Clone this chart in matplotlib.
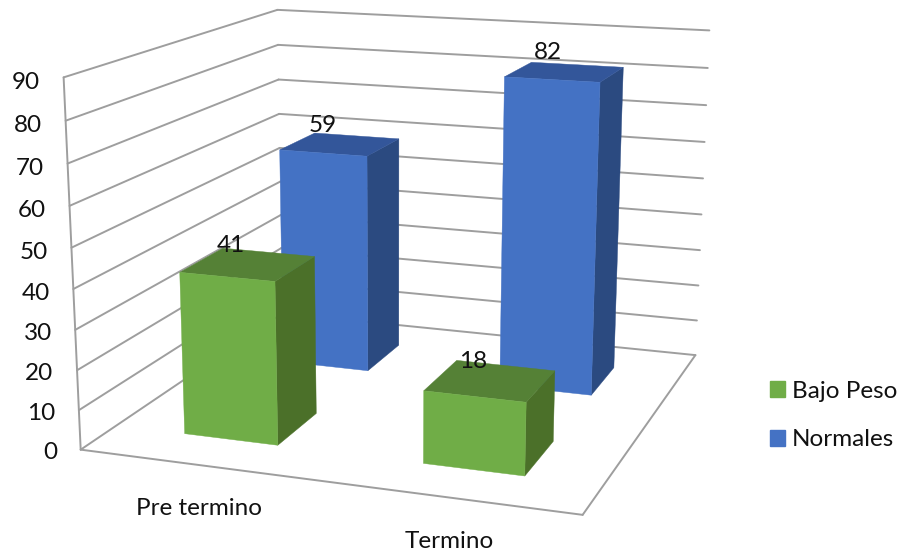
import numpy as np
import matplotlib
matplotlib.use("Agg")
import matplotlib.pyplot as plt
from matplotlib.patches import Polygon, Patch

plt.rcParams['font.family'] = ['Lato', 'DejaVu Sans']

# ---- chart data ----
categories = ["Pre termino", "Termino"]
series_names = ["Bajo Peso", "Normales"]
bajo_peso = [41, 18]
normales = [59, 82]
z_ticks = [0, 10, 20, 30, 40, 50, 60, 70, 80, 90]

# ---- styles ----
green = dict(front="#70AD47", side="#4B7029", top="#558136")
blue = dict(front="#4472C4", side="#2B4A80", top="#33569A")
grid_col = "#9E9E9E"
FS = 17.5

# ---- camera: box coordinates (u, v, z) -> figure pixels ----
cal_world = np.array([(0, 0, 0), (1, 0, 0), (1, 1, 0), (0, 1, 0),
                      (0, 0, 90), (0, 1, 90), (1, 1, 90), (1, 1, 50)], float)
cal_pix = np.array([(80, 448), (583, 516), (695, 354), (283, 315),
                    (64, 78), (277, 9), (709.5, 31), (703, 178)], float)
rows, rhs = [], []
for (u, v, z), (x, y) in zip(cal_world, cal_pix):
    rows.append([u, v, z, 1, 0, 0, 0, 0, -x*u, -x*v, -x*z]); rhs.append(x)
    rows.append([0, 0, 0, 0, u, v, z, 1, -y*u, -y*v, -y*z]); rhs.append(y)
P = np.append(np.linalg.lstsq(np.array(rows), np.array(rhs), rcond=None)[0], 1).reshape(3, 4)


def proj(u, v, z):
    h = P @ np.array([u, v, z, 1.0])
    return h[0] / h[2], h[1] / h[2]


fig = plt.figure(figsize=(9.04, 5.57), dpi=100)
ax = fig.add_axes([0, 0, 1, 1])
ax.set_xlim(0, 904)
ax.set_ylim(557, 0)
ax.axis("off")


def seg(a, b, **kw):
    (x0, y0), (x1, y1) = proj(*a), proj(*b)
    ax.plot([x0, x1], [y0, y1], color=grid_col, lw=1.4, solid_capstyle="round", zorder=1)


# walls and floor
for z in z_ticks:
    seg((0, 0, z), (0, 1, z))
    seg((0, 1, z), (1, 1, z))
    x, y = proj(0, 0, z)
    ax.text(x - 23.5, y + 3 + 2.5 * z / 90, str(z), ha="right", va="center", fontsize=FS,
            color="#111111", zorder=6)
seg((0, 0, 0), (0, 0, z_ticks[-1]))
seg((0, 0, 0), (1, 0, 0))
seg((1, 0, 0), (1, 1, 0))

# bars, back row first
half = 0.1
series = [(normales, blue, 0.75), (bajo_peso, green, 0.25)]
for values, col, vc in series:
    for i, val in enumerate(values):
        uc = (i + 0.5) / len(categories)
        u0, u1, v0, v1 = uc - half, uc + half, vc - half, vc + half
        faces = [
            ([(u1, v0, 0), (u1, v1, 0), (u1, v1, val), (u1, v0, val)], col["side"]),
            ([(u0, v0, val), (u1, v0, val), (u1, v1, val), (u0, v1, val)], col["top"]),
            ([(u0, v0, 0), (u1, v0, 0), (u1, v0, val), (u0, v0, val)], col["front"]),
        ]
        for pts, c in faces:
            ax.add_patch(Polygon([proj(*p) for p in pts], closed=True, facecolor=c,
                                 edgecolor=c, lw=0.3, zorder=3))
        x, y = proj(uc, vc, val)
        ax.text(x - 17, y - 19, str(val), ha="center", va="center", fontsize=FS,
                color="#111111", zorder=7)

# category labels
for i, name in enumerate(categories):
    x, y = proj((i + 0.5) / len(categories), 0, 0)
    ax.text(x + 0.5, y + 44, name, ha="center", va="center", fontsize=FS, color="#111111", zorder=6)

# legend
handles = [Patch(color=green["front"], label=series_names[0]),
           Patch(color=blue["front"], label=series_names[1])]
ax.legend(handles=handles, loc="upper left", bbox_to_anchor=(770, 380.5), bbox_transform=ax.transData,
          frameon=False, fontsize=FS, handlelength=0.62, handleheight=0.62, handletextpad=0.28,
          labelspacing=1.15, borderpad=0, borderaxespad=0, labelcolor="#111111")

fig.savefig("out.png", dpi=100)
